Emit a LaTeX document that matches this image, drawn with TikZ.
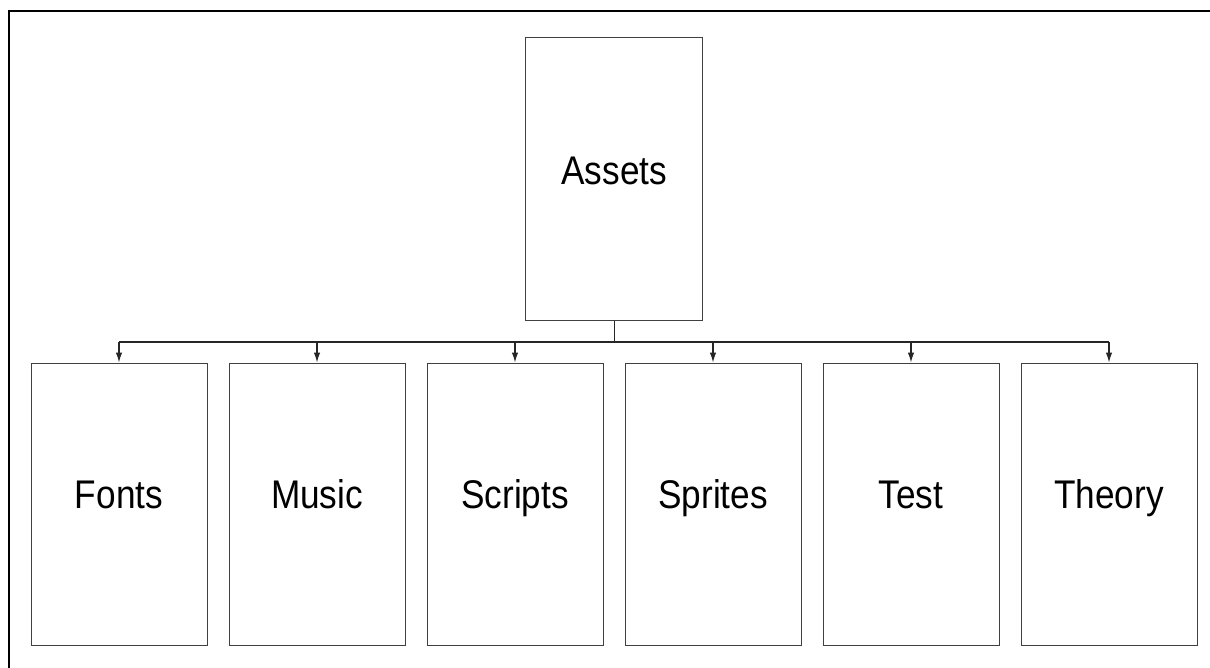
\documentclass[tikz,border=0pt]{standalone}
\usepackage{fontspec}
\setmainfont{Liberation Sans}[FakeStretch=0.88]
\usetikzlibrary{arrows.meta}
\begin{document}
\begin{tikzpicture}[x=1pt,y=-1pt,
  box/.style={draw=black!75, line width=1pt, minimum width=176pt, minimum height=282pt,
    inner sep=0pt, text height=8pt, text depth=0pt, font=\fontsize{40}{42}\selectfont},
  conn/.style={draw=black!85, line width=1.2pt},
  arr/.style={conn, -{Latex[length=10pt,width=6.5pt]}},
  frame/.style={draw=black, line width=2.2pt}]
\useasboundingbox (0,0) rectangle (1210,668);
\draw[frame] (9,668) -- (9,11) -- (1210,11);
\node[box, minimum width=177pt, minimum height=283pt, text height=11pt] (assets) at (614.3,179.5) {Assets};
\node[box] (fonts)   at (119,504) {Fonts};
\node[box] (music)   at (317,504) {Music};
\node[box] (scripts) at (515,504) {Scripts};
\node[box] (sprites) at (713,504) {Sprites};
\node[box] (test)    at (911,504) {Test};
\node[box] (theory)  at (1109,504) {Theory};
\coordinate (bus) at (614.3,342);
\draw[conn] (assets.south) -- (bus);
\draw[conn] (bus -| fonts.north) -- (bus -| theory.north);
\foreach \c in {fonts,music,scripts,sprites,test,theory}
  \draw[arr] (bus -| \c.north) -- (\c.north);
\end{tikzpicture}
\end{document}
